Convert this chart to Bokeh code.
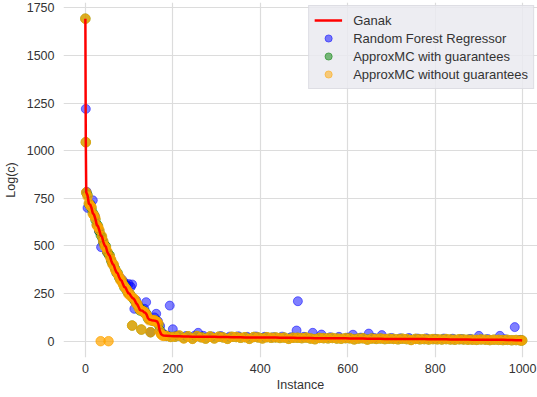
from bokeh.plotting import figure
from bokeh.models import FixedTicker, Legend, LegendItem, ColumnDataSource
from bokeh.embed import file_html
from bokeh.resources import INLINE

# ---- data ----
instance = [0, 1, 2, 5, 8, 11, 14, 17, 20, 23, 26, 29, 32, 35, 38, 41, 44, 47, 50, 53,
            56, 59, 62, 65, 68, 71, 74, 77, 80, 83, 86, 89, 92, 95, 98, 101, 104, 107, 110, 113,
            116, 119, 122, 125, 128, 131, 134, 137, 140, 143, 146, 149, 152, 155, 158, 161, 164, 167, 170, 173,
            176, 179,
            185, 195, 205, 215, 225, 235, 245, 255, 265, 275,
            285, 295, 305, 315, 325, 335, 345, 355, 365, 375,
            385, 395, 405, 415, 425, 435, 445, 455, 465, 475,
            485, 495, 505, 515, 525, 535, 545, 555, 565, 575,
            585, 595, 605, 615, 625, 635, 645, 655, 665, 675,
            685, 695, 705, 715, 725, 735, 745, 755, 765, 775,
            785, 795, 805, 815, 825, 835, 845, 855, 865, 875,
            885, 895, 905, 915, 925, 935, 945, 955, 965, 975,
            985, 995, 999]

ganak = [1694, 1045, 782, 765, 722, 718, 700, 672, 664, 641, 611, 603, 582, 556, 549, 522, 503, 496, 470, 456,
         447, 424, 407, 399, 378, 362, 356, 337, 323, 318, 300, 285, 281, 266, 252, 250, 238, 228, 224, 215,
         200, 192, 178, 163, 161, 160, 152, 150, 140, 122, 114, 112, 110, 109, 108, 106, 104, 90, 55, 38,
         32, 30,
         29, 27, 26, 26, 25, 25, 24, 24, 24, 23,
         23, 23, 22, 22, 22, 21, 21, 21, 20, 20,
         20, 20, 19, 19, 19, 19, 18, 18, 18, 18,
         17, 17, 17, 17, 16, 16, 16, 16, 15, 15,
         15, 15, 14, 14, 14, 14, 13, 13, 13, 13,
         12, 12, 12, 12, 12, 11, 11, 11, 11, 11,
         10, 10, 10, 10, 10, 9, 9, 9, 9, 9,
         8, 8, 8, 8, 7, 7, 7, 7, 6, 6,
         5, 5, 4]

approxmc_with = [1694, 1045, 780, 768, 720, 716, 698, 674, 662, 638, 614, 605, 578, 558, 546, 520, 505, 498, 468, 458,
                 449, 422, 409, 397, 380, 360, 358, 335, 325, 316, 302, 283, 283, 264, 254, 248, 240, 82, 222, 213,
                 202, 190, 180, 161, 61, 162, 150, 152, 142, 120, 116, 47, 108, 111, 106, 108, 100, 88, 58, 40,
                 34, 31,
                 28, 23, 24, 29, 16, 26, 13, 27, 21, 14,
                 25, 15, 24, 20, 13, 23, 22, 18, 21, 13,
                 22, 20, 15, 21, 18, 20, 17, 19, 13, 18,
                 18, 16, 19, 14, 11, 17, 16, 15, 17, 14,
                 13, 16, 15, 10, 14, 15, 9, 14, 12, 14,
                 11, 13, 12, 10, 13, 11, 7, 12, 10, 11,
                 9, 11, 10, 9, 11, 9, 8, 10, 9, 8,
                 8, 7, 9, 8, 6, 8, 7, 6, 7, 5,
                 6, 4, 4]

approxmc_without = [1694, 1045, 782, 760, 725, 712, 705, 668, 660, 645, 608, 600, 585, 0, 552, 525, 500, 492, 472, 0,
                    444, 428, 404, 402, 375, 365, 352, 340, 320, 322, 298, 288, 278, 270, 248, 252, 235, 82, 226, 218,
                    198, 195, 175, 165, 61, 158, 155, 148, 138, 125, 110, 47, 112, 106, 110, 104, 102, 92, 52, 36,
                    30, 28,
                    28, 22, 24, 30, 14, 26, 12, 27, 20, 13,
                    25, 14, 24, 20, 12, 23, 22, 18, 21, 12,
                    22, 20, 14, 21, 18, 20, 17, 19, 12, 18,
                    18, 16, 19, 14, 10, 17, 16, 15, 17, 14,
                    13, 16, 15, 9, 14, 15, 8, 14, 12, 14,
                    11, 13, 12, 10, 13, 11, 6, 12, 10, 11,
                    9, 11, 10, 9, 11, 9, 8, 10, 9, 8,
                    8, 7, 9, 8, 6, 8, 7, 6, 7, 5,
                    6, 4, 4]

rf_instance = [1, 3, 5, 12, 17, 22, 27, 31, 36, 40, 45, 49, 54, 58, 63, 67, 72, 76, 81, 85,
               88, 94, 99, 104, 107, 112, 116, 121, 126, 131, 135, 138, 139, 144, 149, 154, 158, 162, 166, 171,
               175, 180, 188, 193, 200,
               210, 230, 250, 258, 270, 290, 310, 330, 350, 370, 390, 410, 430, 450, 470, 483, 486, 500,
               520, 540, 560, 580, 600, 612, 630, 648, 660, 678, 700, 720, 740, 760, 780, 800,
               820, 840, 860, 880, 900, 920, 948, 960, 982, 995]
rf_value = [1220, 785, 700, 720, 740, 655, 608, 580, 494, 530, 500, 470, 452, 430, 404, 385, 358, 345, 330, 320,
            310, 295, 300, 285, 298, 170, 215, 190, 170, 160, 170, 147, 205, 125, 47, 112, 125, 144, 105, 80,
            45, 35, 28, 187, 63,
            30, 27, 29, 44, 28, 25, 27, 24, 26, 23, 25, 23, 21, 24, 21, 56, 210, 23,
            44, 35, 21, 23, 19, 34, 19, 40, 17, 32, 17, 15, 17, 14, 15, 13,
            14, 13, 11, 12, 28, 11, 28, 10, 74, 7]

x_ticks = [0, 200, 400, 600, 800, 1000]
y_ticks = [0, 250, 500, 750, 1000, 1250, 1500, 1750]

# ---- figure ----
p = figure(width=537, height=397, x_range=(-50, 1034), y_range=(-85.6, 1778.8),
           output_backend="svg", toolbar_location=None,
           min_border_left=63, min_border_right=0, min_border_top=2, min_border_bottom=40)
p.outline_line_color = None
p.background_fill_color = "white"
p.border_fill_color = "white"

for g in (p.xgrid, p.ygrid):
    g.grid_line_color = "#dcdcdc"
    g.grid_line_width = 1.2

p.xaxis.ticker = FixedTicker(ticks=x_ticks)
p.yaxis.ticker = FixedTicker(ticks=y_ticks)
for ax in (p.xaxis, p.yaxis):
    ax.axis_line_color = None
    ax.major_tick_line_color = None
    ax.minor_tick_line_color = None
    ax.major_tick_out = 0
    ax.major_tick_in = 0
    ax.major_label_text_font = "Liberation Sans"
    ax.major_label_text_font_size = "12.5px"
    ax.major_label_text_color = "#333333"
    ax.axis_label_text_font = "Liberation Sans"
    ax.axis_label_text_font_size = "12.5px"
    ax.axis_label_text_font_style = "normal"
    ax.axis_label_text_color = "#333333"
p.xaxis.axis_label = "Instance"
p.yaxis.axis_label = "Log(c)"
p.xaxis.major_label_standoff = 6
p.xaxis.axis_label_standoff = 2
p.yaxis.major_label_standoff = 9
p.yaxis.axis_label_standoff = 6

src = ColumnDataSource(dict(x=instance, ganak=ganak, g=approxmc_with, ng=approxmc_without))
rf_src = ColumnDataSource(dict(x=rf_instance, y=rf_value))

# plotted marks (the real chart has ~1000 overlapping markers per series, so the
# dense band is drawn slightly more opaque to give the same saturated look)
p.scatter("x", "y", source=rf_src, size=9, fill_color="blue", line_color="blue",
          fill_alpha=0.5, line_alpha=0.5, line_width=1)
p.scatter("x", "g", source=src, size=9.5, fill_color="green", line_color="green",
          fill_alpha=0.5, line_alpha=0.5, line_width=1)
p.scatter("x", "ng", source=src, size=9.5, fill_color="orange", line_color="orange",
          fill_alpha=0.72, line_alpha=0.72, line_width=1)
r_line = p.line("x", "ganak", source=src, line_color="red", line_width=2.5)

# legend-only glyphs (alpha 0.5 as in the reference legend); NaN -> nothing drawn in plot
nan = float("nan")
leg_src = ColumnDataSource(dict(x=[nan], y=[nan]))
l_rf = p.scatter("x", "y", source=leg_src, size=9, fill_color="blue", line_color="blue",
                 fill_alpha=0.5, line_alpha=0.5)
l_g = p.scatter("x", "y", source=leg_src, size=9, fill_color="green", line_color="green",
                fill_alpha=0.5, line_alpha=0.5)
l_ng = p.scatter("x", "y", source=leg_src, size=9, fill_color="orange", line_color="orange",
                 fill_alpha=0.5, line_alpha=0.5)

legend = Legend(items=[
    LegendItem(label="Ganak", renderers=[r_line]),
    LegendItem(label="Random Forest Regressor", renderers=[l_rf]),
    LegendItem(label="ApproxMC with guarantees", renderers=[l_g]),
    LegendItem(label="ApproxMC without guarantees", renderers=[l_ng]),
], location="top_right")
legend.margin = 3
legend.padding = 5
legend.spacing = 0
legend.label_height = 18
legend.glyph_height = 18
legend.glyph_width = 28
legend.label_standoff = 11
legend.label_text_font = "Liberation Sans"
legend.label_text_font_size = "13px"
legend.label_text_color = "#333333"
legend.background_fill_color = "#eaeaf0"
legend.background_fill_alpha = 0.85
legend.border_line_color = "#d0d0d6"
legend.border_line_width = 1
p.add_layout(legend)

open("out.html", "w").write(file_html(p, INLINE))
